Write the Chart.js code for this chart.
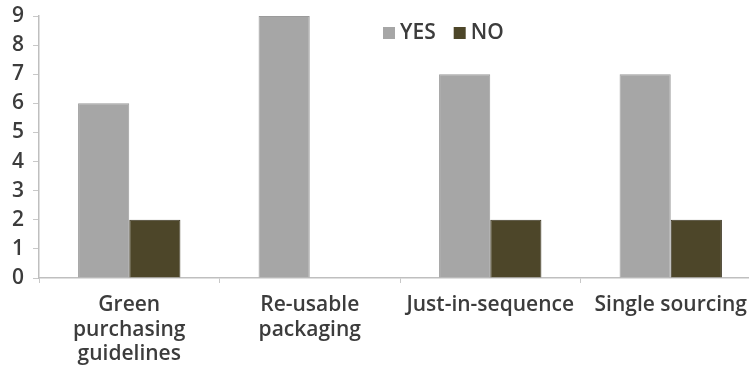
<!DOCTYPE html>
<html>
<head>
<meta charset="utf-8">
<script src="https://cdn.jsdelivr.net/npm/chart.js@4/dist/chart.umd.min.js"></script>
<style>
  html, body { margin: 0; padding: 0; background: #fff; overflow: hidden; width: 749px; height: 370px; }
  #wrap { position: relative; width: 761px; height: 370px; }
</style>
</head>
<body>
<div id="wrap"><canvas id="c"></canvas></div>
<script>
// Practices surveyed and the number of YES / NO answers for each
const categories = [["Green", "purchasing", "guidelines"], ["Re-usable", "packaging"], "Just-in-sequence", "Single sourcing"];
const yesValues = [6, 9, 7, 7];
const noValues = [2, 0, 2, 2];
const seriesNames = ["YES", "NO"];
const yTickMin = 0;
const yTickMax = 9;
const yTickStep = 1;

const FONT = { family: '"Open Sans", "DejaVu Sans", sans-serif', size: 21, weight: '600', lineHeight: 1.17 };
const TEXT = '#3c3c3c';

// Legend drawn inside the plot area, near the top
const insideLegend = {
  id: 'insideLegend',
  afterDraw(chart) {
    const ctx = chart.ctx;
    ctx.save();
    ctx.font = FONT.weight + ' ' + FONT.size + 'px ' + FONT.family;
    ctx.textBaseline = 'middle';
    let x = 383;
    const y = 33;
    chart.data.datasets.forEach(ds => {
      ctx.fillStyle = ds.backgroundColor;
      ctx.fillRect(x, y - 6, 12, 12);
      ctx.fillStyle = TEXT;
      ctx.fillText(ds.label, x + 17, y);
      x += 17 + ctx.measureText(ds.label).width + 18;
    });
    ctx.restore();
  }
};

new Chart(document.getElementById('c'), {
  type: 'bar',
  data: {
    labels: categories,
    datasets: [
      { label: seriesNames[0], data: yesValues, backgroundColor: '#a6a6a6', borderColor: '#9b9b9b', borderWidth: 1 },
      { label: seriesNames[1], data: noValues, backgroundColor: '#4d4629', borderColor: '#3a3420', borderWidth: 1 }
    ]
  },
  options: {
    responsive: true,
    maintainAspectRatio: false,
    animation: false,
    datasets: { bar: { categoryPercentage: 0.567, barPercentage: 1.0 } },
    layout: { padding: { top: 16, right: 0, bottom: 0, left: 0 } },
    plugins: { legend: { display: false }, tooltip: { enabled: false } },
    scales: {
      x: {
        grid: { drawOnChartArea: false, drawTicks: true, tickLength: 5, color: '#c8c8c8', offset: true },
        border: { color: '#bfbfbf', width: 1.5 },
        ticks: { color: TEXT, font: FONT, padding: 10, maxRotation: 0, autoSkip: false },
        afterFit(scale) { scale.height = 92; scale.paddingLeft = 0; scale.paddingRight = 0; }
      },
      y: {
        min: yTickMin,
        max: yTickMax,
        grid: { drawOnChartArea: false, drawTicks: true, tickLength: 6, color: '#c8c8c8' },
        border: { color: '#bfbfbf', width: 1.5 },
        ticks: { stepSize: yTickStep, color: TEXT, font: FONT, padding: 9 },
        afterFit(scale) { scale.width = 39; scale.paddingTop = 0; scale.paddingBottom = 0; }
      }
    }
  },
  plugins: [insideLegend]
});
</script>
</body>
</html>
